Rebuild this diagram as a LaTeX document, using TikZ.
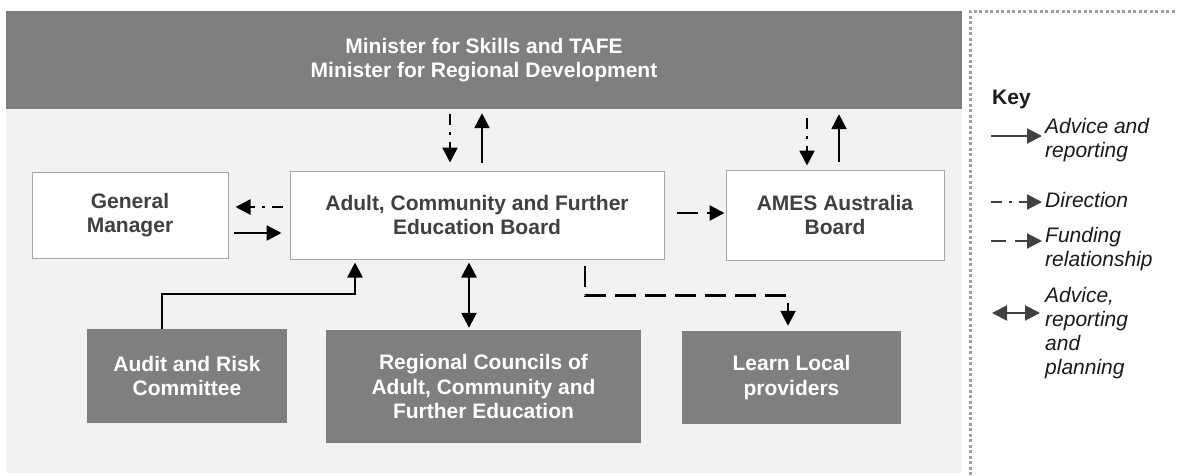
\documentclass[tikz,border=0pt]{standalone}
\usepackage{fontspec}
\setmainfont{Liberation Sans}
\usetikzlibrary{arrows.meta,calc}

\begin{document}
\begin{tikzpicture}[x=1pt,y=-1pt,
  testo/.style={font=\bfseries\fontsize{21}{24.5}\selectfont, align=center, inner sep=0pt},
  chiaro/.style={testo, draw=colBordo, line width=1pt, fill=white, text=colTesto},
  scuro/.style={testo, fill=colScuro, text=white},
  advice/.style={line width=2.5pt, -{Triangle[length=15pt,width=15pt]}},
  direction/.style={advice, dash pattern=on 11pt off 7pt on 2.5pt off 7pt},
  funding/.style={advice, dash pattern=on 21pt off 9pt},
  both/.style={advice, {Triangle[length=15pt,width=15pt]}-{Triangle[length=15pt,width=15pt]}},
  voce/.style={anchor=base west, align=left, font=\itshape\fontsize{21}{24}\selectfont, text=colVoce, inner sep=0pt}
]

% Colori
\definecolor{colScuro}{HTML}{7F7F7F}
\definecolor{colFondo}{HTML}{F2F2F2}
\definecolor{colBordo}{HTML}{A6A6A6}
\definecolor{colTesto}{HTML}{404040}
\definecolor{colPunti}{HTML}{A0A0A0}
\definecolor{colVoce}{HTML}{1A1A1A}

\useasboundingbox (0,0) rectangle (1177,475);

% Sfondo
\fill[colFondo] (6,109) rectangle (962,473);

% Ministri
\node[scuro, minimum width=956pt, minimum height=98pt] (minister) at (484,60)
  {Minister for Skills and TAFE\\Minister for Regional Development};

% Riquadri
\node[chiaro, minimum width=196pt, minimum height=86pt] (gm) at (130,215) {General\\Manager};
\node[chiaro, minimum width=374pt, minimum height=88pt] (acfe) at (477,215)
  {Adult, Community and Further\\Education Board};
\node[chiaro, minimum width=218pt, minimum height=90pt] (ames) at (835,215) {AMES Australia\\Board};
\node[scuro, minimum width=200pt, minimum height=94pt] (audit) at (187,376) {Audit and Risk\\Committee};
\node[scuro, minimum width=315pt, minimum height=113pt] (rc) at (483.5,386.5)
  {Regional Councils of\\Adult, Community and\\Further Education};
\node[scuro, minimum width=219pt, minimum height=93pt] (ll) at (791.5,377.5) {Learn Local\\providers};

% Frecce verso i ministri
\coordinate (dA) at ([xshift=-27pt]acfe.north);
\coordinate (aA) at ([xshift=5pt]acfe.north);
\coordinate (dB) at ([xshift=-28pt]ames.north);
\coordinate (aB) at ([xshift=4pt]ames.north);
\draw[direction, shorten <=5pt, shorten >=8pt] (dA |- minister.south) -- (dA);
\draw[advice, shorten <=8pt, shorten >=4pt] (aA) -- (aA |- minister.south);
\draw[direction, shorten <=9pt, shorten >=4pt] (dB |- minister.south) -- (dB);
\draw[advice, shorten <=8pt, shorten >=5pt] (aB) -- (aB |- minister.south);

% General Manager
\draw[direction, shorten <=7pt, shorten >=7pt] ([yshift=8pt]acfe.west) -- ([yshift=8pt]gm.east);
\draw[advice, shorten <=5pt, shorten >=8pt] ([yshift=-18pt]gm.east) -- ([yshift=-18pt]acfe.west);

% AMES
\draw[funding, shorten <=12pt, shorten >=1pt] ([yshift=2pt]acfe.east) -- ([yshift=2pt]ames.west);

% Comitato
\draw[advice, shorten >=3pt] ([xshift=-25pt]audit.north) -- ++(0,-35) -| ([xshift=-122pt]acfe.south);

% Consigli regionali
\coordinate (rcTop) at ([xshift=-14.5pt]rc.north);
\draw[both, shorten <=2pt, shorten >=3pt] (rcTop) -- (rcTop |- acfe.south);

% Learn Local
\draw[funding, shorten <=6pt, shorten >=5pt] ([xshift=108pt]acfe.south) -- ++(0,36) -| ([xshift=-3.5pt]ll.north);

% Legenda
\draw[colPunti, line width=3pt, dash pattern=on 3pt off 2.5pt] (1180,11) -- (970,11) -- (970,480);
\node[anchor=base west, inner sep=0pt, font=\bfseries\fontsize{21}{24}\selectfont, text=colVoce] (key) at (992,104) {Key};

% (la base e' l'ultima riga)
\node[voce] (kAdv) at (1045,157) {Advice and\\reporting};
\node[voce] (kDir) at (1045,207) {Direction};
\node[voce] (kFun) at (1045,266) {Funding\\relationship};
\node[voce] (kBoth) at (1045,374) {Advice,\\reporting\\and\\planning};

\coordinate (k1a) at (991,136);  \coordinate (k1b) at (1042,136);
\coordinate (k2a) at (991,202);  \coordinate (k2b) at (1042,202);
\coordinate (k3a) at (991,241);  \coordinate (k3b) at (1042,241);
\coordinate (k4a) at (992,313);  \coordinate (k4b) at (1040,313);
\draw[advice, colTesto, line width=2pt] (k1a) -- (k1b);
\draw[direction, colTesto, line width=2pt] (k2a) -- (k2b);
\draw[funding, colTesto, line width=2pt, dash pattern=on 15pt off 9pt] (k3a) -- (k3b);
\draw[both, colTesto, line width=2pt] (k4a) -- (k4b);
\end{tikzpicture}
\end{document}
